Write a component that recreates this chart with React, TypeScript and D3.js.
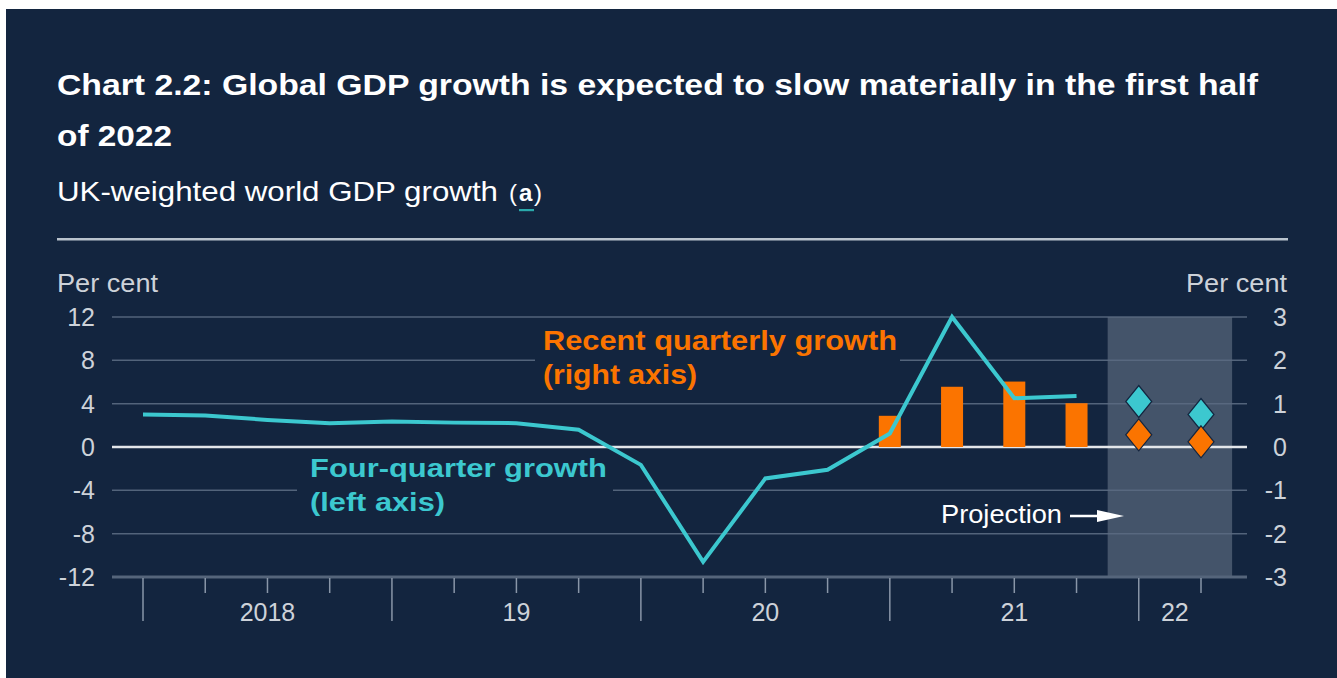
import React from "react";
import * as d3 from "d3";

const quarters = [
  "2018Q1","2018Q2","2018Q3","2018Q4",
  "2019Q1","2019Q2","2019Q3","2019Q4",
  "2020Q1","2020Q2","2020Q3","2020Q4",
  "2021Q1","2021Q2","2021Q3","2021Q4",
  "2022Q1","2022Q2",
];
const fourQuarterGrowth = [3.0, 2.9, 2.5, 2.2, 2.35, 2.25, 2.2, 1.6, -1.65, -10.6, -2.9, -2.1, 1.25, 12.0, 4.5, 4.7];
const barQuarters = ["2021Q1", "2021Q2", "2021Q3", "2021Q4"];
const quarterlyGrowth = [0.72, 1.39, 1.51, 1.01];
const projQuarters = ["2022Q1", "2022Q2"];
const projFourQuarter = [4.2, 3.0];
const projQuarterly = [0.28, 0.12];
const leftTicks = [12, 8, 4, 0, -4, -8, -12];
const rightTicks = [3, 2, 1, 0, -1, -2, -3];
const years = [
  { label: "2018", start: "2018Q1", end: "2019Q1" },
  { label: "19", start: "2019Q1", end: "2020Q1" },
  { label: "20", start: "2020Q1", end: "2021Q1" },
  { label: "21", start: "2021Q1", end: "2022Q1" },
  { label: "22", start: "2022Q1", end: "2022Q2" },
];

const BG = "#13253f";
const TEAL = "#3cc8cf";
const ORANGE = "#fb7400";
const GRID = "#5b6b82";
const LABEL = "#cdd2d9";
const FONT = "'Liberation Sans', Arial, sans-serif";

type TProps = {
  x: number;
  y: number;
  len?: number;
  fs: number;
  fill: string;
  bold?: boolean;
  anchor?: "start" | "middle" | "end";
  children: React.ReactNode;
};
function T({ x, y, len, fs, fill, bold, anchor, children }: TProps) {
  const extra: any = len ? { textLength: len, lengthAdjust: "spacingAndGlyphs" } : {};
  return (
    <text
      x={x}
      y={y}
      fontSize={fs}
      fill={fill}
      fontWeight={bold ? "bold" : "normal"}
      textAnchor={anchor || "start"}
      {...extra}
    >
      {children}
    </text>
  );
}

export default function App() {
  const top = 317, bottom = 577;
  const gridX0 = 112, gridX1 = 1247;
  const x = d3.scalePoint<string>().domain(quarters).range([143, 1201]);
  const step = x.step();
  const yL = d3.scaleLinear().domain([-12, 12]).range([bottom, top]);
  const yR = d3.scaleLinear().domain([-3, 3]).range([bottom, top]);

  const line = d3
    .line<number>()
    .x((_, i) => x(quarters[i]) as number)
    .y((d) => yL(d));

  const barW = 22;
  const diamond = (cx: number, cy: number) =>
    `M${cx},${cy - 16}L${cx + 13},${cy}L${cx},${cy + 16}L${cx - 13},${cy}Z`;

  const projX0 = (x(projQuarters[0]) as number) - step / 2;
  const projX1 = (x(projQuarters[projQuarters.length - 1]) as number) + step / 2;

  return (
    <svg
      width={1337}
      height={678}
      style={{ position: "absolute", left: 0, top: 0, display: "block" }}
      fontFamily={FONT}
    >
      <rect x={0} y={0} width={1337} height={678} fill="#ffffff" />
      <rect x={6} y={9} width={1331} height={669} fill={BG} />

      {/* Title */}
      <T x={57} y={95} fs={30} len={1201} fill="#ffffff" bold>
        Chart 2.2: Global GDP growth is expected to slow materially in the first half
      </T>
      <T x={57} y={146} fs={30} len={115} fill="#ffffff" bold>
        of 2022
      </T>
      <T x={57} y={201} fs={28} len={441} fill="#ffffff">
        UK-weighted world GDP growth
      </T>
      <T x={509} y={201} fs={24} fill="#ffffff">(</T>
      <T x={519} y={201} fs={24} fill="#ffffff" bold>a</T>
      <T x={534} y={201} fs={24} fill="#ffffff">)</T>
      <rect x={519} y={209} width={15} height={2.2} fill="#2aa9ab" />
      <rect x={57} y={238} width={1231} height={2.5} fill="#b9c3cd" />

      {/* Axis titles */}
      <T x={57} y={292} fs={25} len={101} fill={LABEL}>Per cent</T>
      <T x={1287} y={292} fs={25} len={101} fill={LABEL} anchor="end">Per cent</T>

      {/* Projection shading */}
      <rect x={projX0} y={top} width={projX1 - projX0} height={bottom - top} fill="#44546a" />

      {/* Gridlines */}
      {leftTicks.map((t) => (
        <line
          key={t}
          x1={gridX0}
          x2={gridX1}
          y1={yL(t)}
          y2={yL(t)}
          stroke={t === 0 ? "#e3e6ea" : t === -12 ? "#55657b" : GRID}
          strokeWidth={t === 0 ? 2.5 : t === -12 ? 3 : 1.5}
          opacity={t === 0 || t === -12 ? 1 : 0.9}
        />
      ))}

      {/* Label background gaps */}
      <rect x={535} y={352} width={365} height={16} fill={BG} />
      <rect x={297} y={482} width={316} height={16} fill={BG} />

      {/* Left tick labels */}
      {leftTicks.map((t) => (
        <T key={t} x={95} y={yL(t) + 9} fs={25} fill={LABEL} anchor="end">
          {t}
        </T>
      ))}
      {/* Right tick labels */}
      {rightTicks.map((t) => (
        <T key={t} x={1287} y={yR(t) + 9} fs={25} fill={LABEL} anchor="end">
          {t}
        </T>
      ))}

      {/* X ticks */}
      {quarters.map((q) => {
        const major = q.endsWith("Q1");
        const xx = x(q) as number;
        return (
          <line
            key={q}
            x1={xx}
            x2={xx}
            y1={bottom + 1}
            y2={major ? 621 : 593}
            stroke="#8996a8"
            strokeWidth={1.5}
          />
        );
      })}
      {years.map((yr) => {
        const a = x(yr.start) as number;
        const b = x(yr.end) as number;
        const cx = yr.label === "22" ? (a + b) / 2 + 5 : (a + b) / 2;
        return (
          <T key={yr.label} x={cx} y={621} fs={25} fill={LABEL} anchor="middle">
            {yr.label}
          </T>
        );
      })}

      {/* Bars */}
      {barQuarters.map((q, i) => {
        const cx = x(q) as number;
        const v = quarterlyGrowth[i];
        return (
          <rect
            key={q}
            x={cx - barW / 2}
            y={yR(Math.max(0, v))}
            width={barW}
            height={Math.abs(yR(v) - yR(0))}
            fill={ORANGE}
          />
        );
      })}

      {/* Line */}
      <path
        d={line(fourQuarterGrowth) as string}
        fill="none"
        stroke={TEAL}
        strokeWidth={4}
        strokeLinejoin="miter"
      />

      {/* Diamonds */}
      {projQuarters.map((q, i) => {
        const cx = x(q) as number;
        return (
          <g key={q}>
            <path d={diamond(cx, yL(projFourQuarter[i]))} fill={TEAL} stroke={BG} strokeWidth={1.2} />
            <path d={diamond(cx, yR(projQuarterly[i]))} fill={ORANGE} stroke={BG} strokeWidth={1.2} />
          </g>
        );
      })}

      {/* Annotations */}
      <T x={543} y={350} fs={28} len={354} fill={ORANGE} bold>Recent quarterly growth</T>
      <T x={543} y={384} fs={28} len={154} fill={ORANGE} bold>(right axis)</T>
      <T x={310} y={477} fs={26.5} len={297} fill={TEAL} bold>Four-quarter growth</T>
      <T x={310} y={511} fs={26.5} len={135} fill={TEAL} bold>(left axis)</T>

      <T x={941} y={523} fs={25} len={121} fill="#ffffff">Projection</T>
      <line x1={1070} x2={1100} y1={516} y2={516} stroke="#ffffff" strokeWidth={2.5} />
      <path d="M1097,510L1124,516L1097,522Z" fill="#ffffff" />
    </svg>
  );
}
